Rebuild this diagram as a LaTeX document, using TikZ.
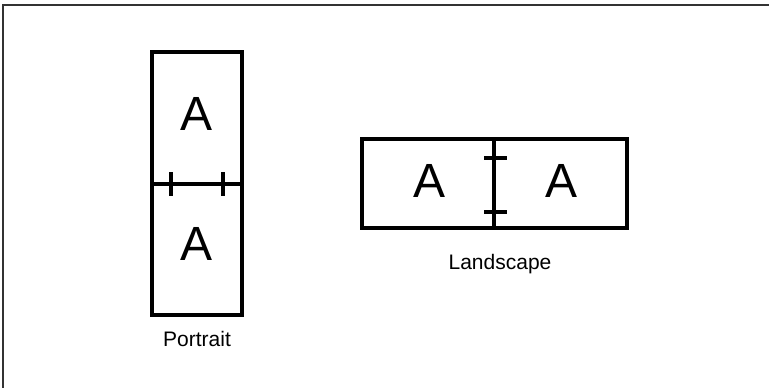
\documentclass[tikz,border=0pt]{standalone}
\usepackage{fontspec}
\setmainfont{Liberation Sans}
\begin{document}
\begin{tikzpicture}[x=1pt,y=-1pt,
  box/.style={draw=black,line width=3.2pt},
  tickline/.style={draw=black,line width=3.2pt},
  big/.style={font=\fontsize{48}{48}\selectfont,inner sep=0pt},
  captext/.style={font=\fontsize{21}{21}\selectfont,inner sep=0pt}]
\useasboundingbox (0,0) rectangle (769,388);
\draw[line width=1.5pt,draw=black!80] (3,388) -- (3,5) -- (769,5);
% portrait
\coordinate (p1) at (152,52);
\coordinate (pm1) at (152,184);
\coordinate (pm2) at (242,184);
\coordinate (p2) at (242,315);
\draw[box] (p1) rectangle (p2);
\draw[box] (pm1) -- (pm2);
\coordinate (pt1a) at (171,172); \coordinate (pt1b) at (171,196);
\coordinate (pt2a) at (223,172); \coordinate (pt2b) at (223,196);
\draw[tickline] (pt1a) -- (pt1b);
\draw[tickline] (pt2a) -- (pt2b);
\node[big] (pa1) at (197,114) {A};
\node[big] (pa2) at (197,244) {A};
\node[captext] (pl) at (197,339) {Portrait};
% landscape
\coordinate (l1) at (362,139);
\coordinate (lm1) at (494,139);
\coordinate (lm2) at (494,228);
\coordinate (l2) at (627,228);
\draw[box] (l1) rectangle (l2);
\draw[box] (lm1) -- (lm2);
\coordinate (lt1a) at (484,158); \coordinate (lt1b) at (507,158);
\coordinate (lt2a) at (484,212); \coordinate (lt2b) at (507,212);
\draw[tickline] (lt1a) -- (lt1b);
\draw[tickline] (lt2a) -- (lt2b);
\node[big] (la1) at (430,181) {A};
\node[big] (la2) at (562,181) {A};
\node[captext] (ll) at (500,264) {Landscape};
\end{tikzpicture}
\end{document}
